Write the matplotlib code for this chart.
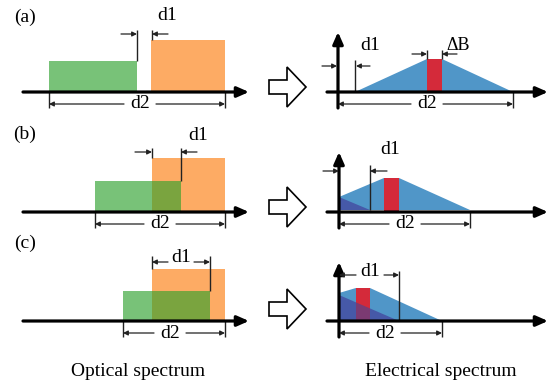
import matplotlib
matplotlib.use("Agg")
import matplotlib.pyplot as plt
from matplotlib.patches import Polygon, Rectangle

plt.rcParams['font.family'] = ['Liberation Serif', 'DejaVu Serif']

# panel data (pixel coordinates of the schematic, y grows downward)
labels = ["(a)", "(b)", "(c)"]
base_y = [92, 212, 321]          # baseline of each row

# optical spectrum: green and orange bands
green_x = [(49, 137), (95, 181), (123, 210)]
green_top = [61, 181, 291]
orange_x = [(151, 225), (152, 225), (152, 225)]
orange_top = [40, 158, 269]
o_d2_text = [140, 160, 170]

# electrical spectrum
e_axis_x = [338, 339, 339]
e_axis_top = [32, 152, 262]
blue_poly = [
    [(355, 92), (427, 59), (442, 59), (513, 92)],
    [(339, 197), (384, 178), (399, 178), (470, 210), (339, 210)],
    [(339, 293), (356, 288), (370, 288), (442, 321), (339, 321)],
]
dark_poly = [None,
             [(339, 197), (339, 210), (370, 210)],
             [(339, 295), (339, 321), (399, 321)]]
red_x = [(427, 442), (384, 399), (356, 370)]
red_top = [59, 178, 288]
e_end = [513, 470, 442]
e_d2_text = [427, 405, 385]

C_GREEN = '#78c278'
C_ORANGE = '#fdab64'
C_OVER = '#7aa43f'
C_BLUE = '#5096c8'
C_RED = '#d42a3a'
C_DARK = '#4659a8'
C_PURPLE = '#7b3a72'
FS = 14

fig = plt.figure(figsize=(5.51, 3.87), dpi=100)
ax = fig.add_axes([0, 0, 1, 1])
ax.set_xlim(0, 551)
ax.set_ylim(387, 0)
ax.axis('off')


def thick_arrow(x0, y0, x1, y1):
    ax.annotate('', xy=(x1, y1), xytext=(x0, y0),
                arrowprops=dict(arrowstyle='-|>,head_length=0.5,head_width=0.22',
                                lw=2.3, color='black',
                                mutation_scale=14, shrinkA=0, shrinkB=0))


def dim_arrow(x0, y0, x1, y1, style='-|>'):
    ax.annotate('', xy=(x1, y1), xytext=(x0, y0),
                arrowprops=dict(arrowstyle=style, lw=0.9, color='#222222',
                                mutation_scale=7, shrinkA=0, shrinkB=0))


def vline(x, y0, y1):
    ax.plot([x, x], [y0, y1], color='#222222', lw=1.0, solid_capstyle='butt')


def txt(x, y, s, size=FS):
    ax.text(x, y, s, ha='center', va='center', fontsize=size)


def dimension(x0, x1, y, tx, s, ty=None, gap=14):
    # two inward-pointing halves with the label in the gap
    dim_arrow(tx - gap, y, x0, y)
    dim_arrow(tx + gap, y, x1, y)
    txt(tx, y if ty is None else ty, s)


for i in range(3):
    y = base_y[i]
    txt(25, y - 75 if i == 0 else y - 78, labels[i])

    # optical bands
    gx0, gx1 = green_x[i]
    ox0, ox1 = orange_x[i]
    ax.add_patch(Rectangle((gx0, green_top[i]), gx1 - gx0, y - green_top[i],
                           facecolor=C_GREEN, edgecolor='none'))
    ax.add_patch(Rectangle((ox0, orange_top[i]), ox1 - ox0, y - orange_top[i],
                           facecolor=C_ORANGE, edgecolor='none'))
    if gx1 > ox0:
        ax.add_patch(Rectangle((ox0, green_top[i]), gx1 - ox0, y - green_top[i],
                               facecolor=C_OVER, edgecolor='none'))
    thick_arrow(23, y, 249, y)

    # optical d2
    vline(gx0, y, y + 16)
    vline(ox1, y, y + 16)
    dy = 12
    dimension(gx0, ox1, y + dy, o_d2_text[i], 'd2', gap=16)

    # electrical spectrum
    ax.add_patch(Polygon(blue_poly[i], closed=True, facecolor=C_BLUE, edgecolor='none'))
    if dark_poly[i] is not None:
        ax.add_patch(Polygon(dark_poly[i], closed=True, facecolor=C_DARK, edgecolor='none'))
    rx0, rx1 = red_x[i]
    red = Rectangle((rx0, red_top[i]), rx1 - rx0, y - red_top[i],
                    facecolor=C_RED, edgecolor='none')
    ax.add_patch(red)
    if dark_poly[i] is not None:
        pp = Polygon(dark_poly[i], closed=True, facecolor=C_PURPLE, edgecolor='none')
        ax.add_patch(pp)
        pp.set_clip_path(red)
    ex = e_axis_x[i]
    thick_arrow(327, y, 548, y)
    thick_arrow(ex, y + 16, ex, e_axis_top[i])

    # electrical d2
    vline(e_end[i], y, y + 16)
    dimension(ex, e_end[i], y + dy, e_d2_text[i], 'd2', gap=16)

    # big hollow arrow between panels
    ay = [87, 207, 309][i]
    ax.add_patch(Polygon([(269, ay - 7), (287, ay - 7), (287, ay - 20), (306, ay),
                          (287, ay + 20), (287, ay + 7), (269, ay + 7)],
                         closed=True, facecolor='white', edgecolor='black', lw=1.2))

# (a) d1 marks
vline(137, 61, 30)
vline(152, 40, 30)
dim_arrow(121, 34, 137, 34)
dim_arrow(168, 34, 152, 34)
txt(167, 16, 'd1')
dim_arrow(322, 66, 337, 66)
vline(355, 92, 60)
dim_arrow(370, 66, 356, 66)
txt(370, 45, 'd1')
vline(427, 50, 59)
vline(442, 50, 59)
dim_arrow(412, 54, 427, 54)
dim_arrow(457, 54, 442, 54)
txt(458, 45, '\u0394B', size=13)

# (b) d1 marks
vline(152, 158, 148)
vline(181, 181, 148)
dim_arrow(135, 152, 152, 152)
dim_arrow(197, 152, 181, 152)
txt(198, 135, 'd1')
dim_arrow(323, 171, 339, 171)
vline(370, 210, 165)
dim_arrow(387, 171, 370, 171)
txt(390, 150, 'd1')

# (c) d1 marks
vline(152, 269, 256)
vline(210, 291, 256)
dimension(152, 210, 262, 181, 'd1', ty=258, gap=13)
vline(399, 321, 271)
dimension(339, 399, 275, 370, 'd1', ty=271, gap=14)

txt(138, 372, 'Optical spectrum')
txt(441, 372, 'Electrical spectrum')

fig.savefig('out.png', dpi=100)
